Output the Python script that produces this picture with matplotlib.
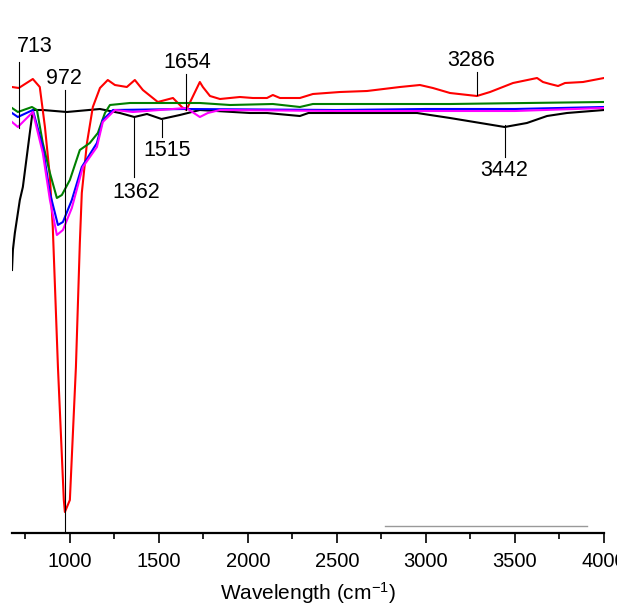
import matplotlib
matplotlib.use("Agg")
import matplotlib.pyplot as plt

plt.rcParams['font.family'] = ['Liberation Sans', 'DejaVu Sans']
plt.rcParams['mathtext.default'] = 'regular'

# spectra (wavenumber, transmittance-ish units)
red_x = [675, 713, 792, 831, 860, 888, 904, 933, 966, 972, 1000, 1034, 1056, 1067, 1096,
         1129, 1169, 1213, 1253, 1320, 1365, 1410, 1494, 1579, 1629, 1654, 1730, 1747,
         1787, 1843, 1955, 2028, 2107, 2140, 2180, 2292, 2365, 2517, 2669, 2854, 2966,
         3039, 3135, 3286, 3360, 3489, 3624, 3657, 3697, 3742, 3781, 3882, 4000]
red_y = [89.2, 89.0, 90.8, 89.2, 81.2, 71.2, 61.2, 33.2, 6.6, 4.2, 6.6, 33.2, 58.0, 68.0, 78.0,
         85.2, 89.0, 90.6, 89.6, 89.2, 90.6, 88.6, 86.2, 87.0, 85.2, 84.6, 90.2, 89.2,
         87.4, 86.8, 87.2, 87.0, 87.0, 87.6, 87.0, 87.0, 87.8, 88.2, 88.4, 89.2, 89.6,
         89.0, 88.0, 87.4, 88.2, 90.0, 91.0, 90.2, 89.8, 89.4, 90.0, 90.2, 91.0]

green_x = [675, 708, 787, 815, 848, 888, 927, 955, 1000, 1056, 1112, 1157, 1197, 1225, 1337,
           1730, 1900, 2140, 2292, 2365, 3135, 4000]
green_y = [85.0, 84.2, 85.2, 84.6, 78.0, 72.0, 67.0, 67.6, 70.6, 76.6, 78.0, 80.0, 84.0, 85.6,
           86.0, 86.0, 85.6, 85.8, 85.2, 85.8, 85.8, 86.2]

blue_x = [675, 708, 792, 848, 888, 933, 961, 1011, 1067, 1152, 1185, 1242, 1650, 2500, 3000,
          3500, 4000]
blue_y = [84.0, 83.2, 84.6, 77.2, 68.0, 61.6, 62.2, 66.6, 73.2, 78.0, 82.6, 84.6, 84.8, 84.6,
          84.8, 84.8, 85.2]

magenta_x = [675, 708, 792, 848, 888, 927, 961, 1011, 1073, 1152, 1185, 1253, 1354, 1654,
             1730, 1775, 1843, 2500, 3000, 3500, 4000]
magenta_y = [82.2, 81.2, 84.2, 76.0, 66.6, 59.6, 60.6, 65.0, 73.2, 77.2, 82.2, 84.6, 84.2, 85.0,
             83.2, 84.0, 84.6, 84.4, 84.4, 84.4, 85.0]

black_x = [675, 680, 691, 719, 736, 775, 792, 848, 983, 1169, 1281, 1362, 1433, 1515, 1618,
           1685, 1730, 2011, 2107, 2292, 2340, 2950, 3135, 3442, 3567, 3680, 3792, 4000]
black_y = [52.6, 56.6, 60.0, 66.6, 69.2, 80.0, 84.6, 84.6, 84.2, 84.8, 84.0, 83.2, 83.8, 82.8,
           83.6, 84.2, 84.6, 84.0, 84.0, 83.4, 84.0, 84.0, 83.0, 81.2, 82.0, 83.4, 84.0, 84.6]

# peak labels and where they point
peak_labels = ['713', '972', '1654', '1515', '1362', '3286', '3442']
peak_x = [713, 972, 1654, 1515, 1362, 3286, 3442]

fig = plt.figure(figsize=(6.17, 6.07), dpi=100)
ax = fig.add_axes([12 / 617, 74 / 607, 592 / 617, 500 / 607])

ax.plot(black_x, black_y, color='black', lw=1.5)
ax.plot(red_x, red_y, color='red', lw=1.5)
ax.plot(green_x, green_y, color='green', lw=1.5)
ax.plot(blue_x, blue_y, color='blue', lw=1.5)
ax.plot(magenta_x, magenta_y, color='magenta', lw=1.5)

# text y, line top, line bottom, text x offset (cm-1) for each label
ann = [(97.2, 94.2, 81.0, 90), (90.8, 88.6, 0.0, -3), (94.2, 91.8, 84.6, 3),
       (76.4, 82.6, 79.2, 30), (68.0, 83.2, 71.2, 9), (94.6, 92.2, 87.6, -33),
       (72.6, 81.6, 75.2, -4)]
for lab, px, (ty, y0, y1, dx) in zip(peak_labels, peak_x, ann):
    ax.plot([px, px], [y0, y1], color='black', lw=0.8)
    ax.text(px + dx, ty, lab, ha='center', va='center', fontsize=15.5)

ax.plot([0.63, 0.971], [0.014, 0.014], transform=ax.transAxes, color='#999999', lw=1)

ax.set_xlim(675, 4000)
ax.set_ylim(0, 100)
ax.set_xticks([1000, 1500, 2000, 2500, 3000, 3500, 4000])
ax.set_xticks([750, 1250, 1750, 2250, 2750, 3250, 3750], minor=True)
ax.set_yticks([])
for s in ['top', 'right', 'left']:
    ax.spines[s].set_visible(False)
ax.spines['bottom'].set_linewidth(1.6)
ax.tick_params(axis='x', which='major', length=7, width=1.2, labelsize=14.5, pad=7)
ax.tick_params(axis='x', which='minor', length=4.5, width=1.2)
ax.set_xlabel('Wavelength (cm$^{-1}$)', fontsize=15, labelpad=6)

fig.savefig('out.png', dpi=100)
